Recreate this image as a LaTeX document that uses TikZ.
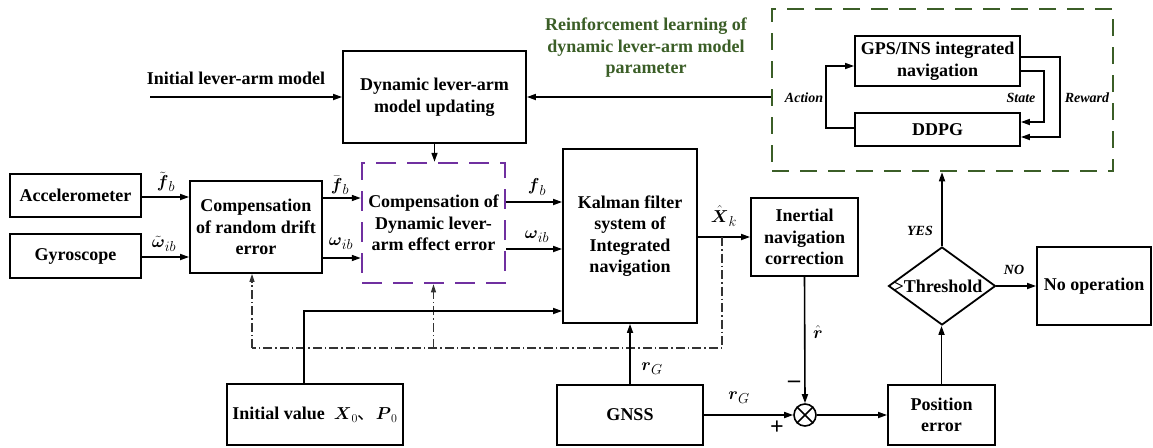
\documentclass[tikz,border=0pt]{standalone}
\usepackage{amsmath}
\usepackage{fontspec}
\setmainfont{Liberation Serif}
\newfontfamily\cjk{Noto Sans CJK SC}
\usetikzlibrary{arrows.meta,shapes.geometric}
\definecolor{rlgreen}{HTML}{3B5E27}
\definecolor{lvpurple}{HTML}{7030A0}
\begin{document}
\begin{tikzpicture}[x=1pt,y=-1pt,
  every node/.style={font=\fontsize{18}{21.5}\selectfont\bfseries},
  bx/.style={draw, line width=1.8pt, align=center, inner sep=1pt},
  arr/.style={line width=1.6pt, -{Triangle[length=9pt,width=6pt]}},
  dda/.style={line width=1.1pt, draw=black!80, dash pattern=on 9pt off 3pt on 1.5pt off 3pt, -{Triangle[length=8pt,width=5pt]}},
  ddl/.style={line width=1.1pt, draw=black!80, dash pattern=on 9pt off 3pt on 1.5pt off 3pt},
  lab/.style={font=\fontsize{14}{16}\selectfont\bfseries\itshape, inner sep=0pt},
  sym/.style={font=\fontsize{19}{20}\selectfont\bfseries, inner sep=0pt},
  pm/.style={font=\fontsize{24}{24}\selectfont\bfseries, inner sep=0pt}]

\useasboundingbox (0,0) rectangle (1153,447);

% boxes
\node[bx, minimum width=131, minimum height=43] (acc) at (75.5,195.5) {Accelerometer};
\node[bx, minimum width=131, minimum height=44] (gyro) at (75.5,256) {Gyroscope};
\node[bx, minimum width=132, minimum height=92] (comp) at (256,227) {Compensation\\of random drift\\error};
\node[bx, draw=lvpurple, line width=2.5pt, dash pattern=on 20pt off 11pt, minimum width=143, minimum height=120] (pur) at (433.5,223) {Compensation of\\Dynamic lever-\\arm effect error};
\node[bx, minimum width=134, minimum height=174] (kal) at (630,236) {Kalman filter\\system of\\Integrated\\navigation};
\node[bx, minimum width=107, minimum height=78] (inert) at (804.5,237) {Inertial\\navigation\\correction};
\node[bx, minimum width=183, minimum height=92] (dyn) at (434.5,97) {Dynamic lever-arm\\model updating};
\node[bx, minimum width=176, minimum height=61] (init) at (315,414.5) {Initial value\ \ $\boldsymbol{X}_0${\cjk\mdseries 、}$\boldsymbol{P}_0$};
\node[bx, minimum width=146, minimum height=60] (gnss) at (630,415) {GNSS};
\node[bx, minimum width=107, minimum height=60] (pos) at (941.5,415) {Position\\error};
\node[bx, minimum width=114, minimum height=78] (noop) at (1094,286) {No operation};
\node[draw, diamond, line width=1.8pt, minimum width=107, minimum height=78, inner sep=0pt,
  label={[xshift=-4pt]center:>Threshold}] (thr) at (942,286) {};
\node[draw, circle, line width=1.6pt, minimum size=22, inner sep=0pt] (ot) at (805,415) {};
\draw[line width=1.6pt] (ot.north west) -- (ot.south east) (ot.north east) -- (ot.south west);

% green RL area
\node[draw=rlgreen, line width=2.5pt, dash pattern=on 17pt off 11pt, minimum width=341, minimum height=162, inner sep=0pt] (green) at (942.5,90) {};
\node[bx, minimum width=165, minimum height=50] (gps) at (937.5,61) {GPS/INS integrated\\navigation};
\node[bx, minimum width=165, minimum height=33] (ddpg) at (937.5,129.5) {DDPG};
\node[text=rlgreen, align=center, inner sep=0pt] (rltext) at (646,48) {Reinforcement learning of\\dynamic lever-arm model\\parameter};

% top arrows
\node[inner sep=0pt] (ilmt) at (236,78) {Initial lever-arm model};
\coordinate (ilm) at (150,97);
\draw[arr] (ilm) -- (dyn.west);
\draw[arr] (green.west |- dyn.east) -- (dyn.east);
\draw[arr] (dyn.south) -- (dyn.south |- pur.north);

% sensor arrows
\draw[arr] (acc.east |- 0,197) -- (comp.west |- 0,197);
\draw[arr] (gyro.east |- 0,257) -- (comp.west |- 0,257);
\draw[arr] (comp.east |- 0,198) -- (pur.west |- 0,198);
\draw[arr] (comp.east |- 0,258) -- (pur.west |- 0,258);
\draw[arr] (pur.east |- 0,202) -- (kal.west |- 0,202);
\draw[arr] (pur.east |- 0,249) -- (kal.west |- 0,249);
\draw[arr] (kal.east |- inert.west) -- (inert.west);

\node[sym] (l1) at (166,182) {$\tilde{\boldsymbol{f}}_{b}$};
\node[sym] (l2) at (164,244) {$\tilde{\boldsymbol{\omega}}_{ib}$};
\node[sym] (l3) at (340,185) {$\bar{\boldsymbol{f}}_{b}$};
\node[sym] (l4) at (341,244) {$\boldsymbol{\omega}_{ib}$};
\node[sym] (l5) at (537,187) {$\boldsymbol{f}_{b}$};
\node[sym] (l6) at (537,237) {$\boldsymbol{\omega}_{ib}$};
\node[sym] (l7) at (724,216) {$\hat{\boldsymbol{X}}_{k}$};

% feedback dash-dot
\coordinate (xk) at (722,237);
\coordinate (dd1) at (722,348);
\coordinate (dd2) at (252,348);
\draw[ddl] (xk) -- (dd1) -- (dd2);
\draw[dda] (dd2) -- (dd2 |- comp.south);
\draw[dda] (dd2 -| pur.south) -- (pur.south);

% initial value, GNSS
\draw[arr] (init.north -| 304,0) |- (kal.west |- 0,311);
\draw[arr] (gnss.north) -- (kal.south);
\node[sym] (l8) at (652,369) {$\boldsymbol{r}_{G}$};
\draw[arr] (inert.south) -- (ot.north);
\node[sym] (l9) at (818,332) {$\hat{\boldsymbol{r}}$};
\node[pm] (lm) at (794,384) {\textendash};
\draw[arr] (gnss.east) -- (ot.west);
\node[sym] (l10) at (739,398) {$\boldsymbol{r}_{G}$};
\node[pm] (lp) at (777,428) {+};
\draw[arr] (ot.east) -- (pos.west);
\draw[arr] (pos.north) -- (pos.north |- thr.south);
\draw[arr] (thr.north) -- (thr.north |- green.south);
\node[lab] (yes) at (920,231) {YES};
\draw[arr] (thr.east) -- (noop.west);
\node[lab] (no) at (1014,270) {NO};

% RL loop
\draw[arr] (ddpg.west |- 0,128) -- (826,128) -- (826,66) -- (gps.west |- 0,66);
\draw[arr] (gps.east |- 0,71) -- (1044,71) -- (1044,122) -- (ddpg.east |- 0,122);
\draw[arr] (gps.east |- 0,57) -- (1060,57) -- (1060,137) -- (ddpg.east |- 0,137);
\node[lab] (act) at (804,98) {Action};
\node[lab] (st) at (1021,98) {State};
\node[lab] (rw) at (1087,98) {Reward};
\end{tikzpicture}
\end{document}
